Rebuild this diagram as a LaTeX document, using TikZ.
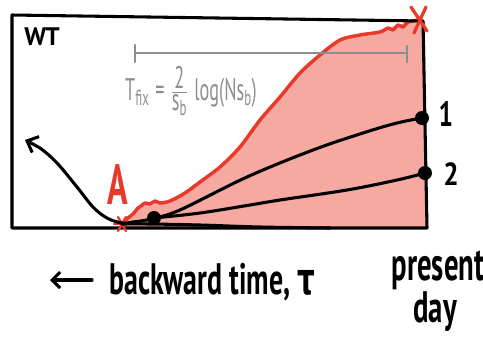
\documentclass[tikz,border=0pt]{standalone}
\usepackage{fontspec}
\setmainfont{PT Sans}
\newfontfamily\gfont{DejaVu Sans}
\usetikzlibrary{arrows.meta}
\definecolor{redline}{HTML}{E8392A}
\definecolor{redfill}{HTML}{F5A9A0}
\definecolor{graytxt}{HTML}{8E8E8E}
\begin{document}
\begin{tikzpicture}[x=0.75pt,y=-0.75pt,
  ink/.style={line width=2.3pt,line cap=round,line join=round},
  redink/.style={line width=2.6pt,line cap=round,line join=round,draw=redline},
  dot/.style={circle,fill=black,inner sep=0pt,minimum size=10.5pt},
  lab/.style={inner sep=0pt,font=\fontsize{24}{26}\selectfont\bfseries}]
\useasboundingbox (0,0) rectangle (483,337);
% red fill under the curve
\fill[redfill] plot[smooth,tension=0.5] coordinates {(122,224) (133,213) (143,204) (157,202) (170,201) (185,193) (200,182) (220,167) (240,147) (260,120) (280,97) (300,73) (320,55) (340,40) (360,35) (380,32) (397,25) (419,21)} -- (425,22) -- (427,228) -- (122,228) -- cycle;
% red curve
\coordinate (A0) at (122,224);
\coordinate (X0) at (419,20);
\draw[redink] plot[smooth,tension=0.5] coordinates {(A0) (128,218) (133,214) (138,208) (141,206) (145,203) (150,204) (155,201) (160,203) (170,201) (185,193) (200,182) (220,167) (240,147) (260,120) (280,97) (300,73) (320,55) (340,40) (360,35) (380,32) (388,28) (393,30) (398,25) (403,27) (408,22) (X0)};
% frame
\draw[ink] (12,15) -- (423,21) -- (427,228) -- (12,228) -- cycle;
% gray bar and formula
\coordinate (g1) at (135,53);
\coordinate (g2) at (407,53);
\draw[graytxt,line width=1.8pt,line cap=round] (g1) -- (g2);
\draw[graytxt,line width=1.8pt,line cap=round] (135,45) -- (135,62) (407,46) -- (407,62);
\node[graytxt,inner sep=0pt] (tfix) at (191,91) {\fontsize{18}{18}\selectfont\scalebox{0.76}[1.3]{T\textsubscript{fix}\,\,=\,\,$\frac{\mbox{2}}{\mbox{s\textsubscript{b}}}$\,\,log(Ns\textsubscript{b})}};
% WT label
\node[lab,font=\fontsize{19}{19}\selectfont\bfseries] (wt) at (42,37) {WT};
% red A, asterisk, X
\node[redline,inner sep=0pt] (A) at (118,185) {\fontsize{34}{34}\selectfont\bfseries\scalebox{0.75}[1.25]{A}};
\foreach \a in {0,60,120} \draw[redline,line width=1.8pt,line cap=round] (A0) ++(\a:8) -- ++(\a+180:16);
\draw[redline,line width=2.4pt,line cap=round] (411,7) -- (427,31) (426,7) -- (414,33);
% dots
\node[dot] (d0) at (154,218) {};
\node[dot] (d1) at (422,118) {};
\node[dot] (d2) at (425,173) {};
% black lineages
\coordinate (tip) at (25,140);
\draw[ink,{Straight Barb[length=7pt,width=13pt,line width=2.3pt]}-] (tip) plot[smooth,tension=0.6] coordinates {(tip) (40,148) (57,163) (77,187) (93,207) (107,218) (122,223) (133,222) (147,220) (d0)};
\draw[ink] plot[smooth,tension=0.6] coordinates {(d0) (180,210) (247,177) (313,150) (363,133) (397,123) (d1)};
\draw[ink] plot[smooth,tension=0.6] coordinates {(d0) (200,213) (250,205) (280,200) (347,190) (397,180) (d2)};
\draw[ink] plot[smooth,tension=0.6] coordinates {(A0) (150,224) (200,225) (260,227) (330,228)};
% labels 1 and 2
\node[lab] (l1) at (446,114) {\scalebox{0.8}[1.1]{1}};
\node[lab] (l2) at (451,174) {\scalebox{0.85}[1.0]{2}};
% bottom captions
\coordinate (ar1) at (92,280);
\coordinate (ar2) at (50,280);
\draw[ink,-{Straight Barb[length=6pt,width=12pt,line width=2.3pt]}] (ar1) -- (ar2);
\node[lab,anchor=west] (bt) at (109,282) {\fontsize{22}{24}\selectfont\bfseries\scalebox{0.95}[1.5]{backward time, {\gfont\bfseries τ}}};
\node[lab] (pd1) at (438,270) {\fontsize{22}{24}\selectfont\bfseries\scalebox{0.98}[1.6]{present}};
\node[lab] (pd2) at (435,312) {\fontsize{22}{24}\selectfont\bfseries\scalebox{0.98}[1.5]{day}};
\end{tikzpicture}
\end{document}
